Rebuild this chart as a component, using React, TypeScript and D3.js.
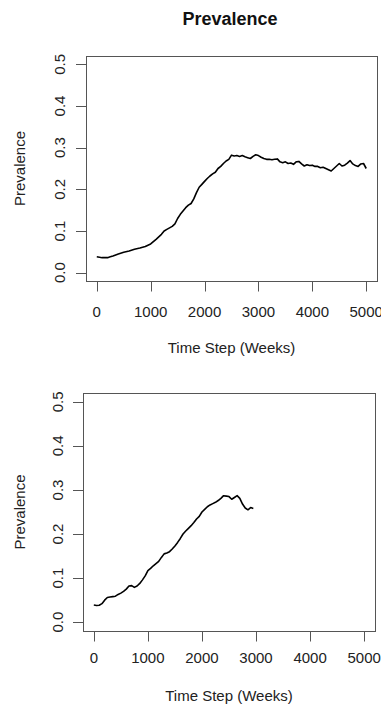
import { useEffect, useRef } from 'react'
import * as d3 from 'd3'

// Full run (top panel)
const runAWeeks = [0, 50, 100, 150, 200, 250, 300, 400, 500, 600, 700, 800, 900, 950, 1000, 1100, 1200, 1250, 1300, 1400, 1450, 1500, 1550, 1600, 1650, 1700, 1750, 1800, 1850, 1900, 1950, 2000, 2050, 2100, 2150, 2200, 2250, 2300, 2350, 2400, 2450, 2500, 2550, 2600, 2650, 2700, 2750, 2800, 2850, 2900, 2950, 3000, 3050, 3100, 3150, 3200, 3250, 3300, 3350, 3400, 3450, 3500, 3550, 3600, 3650, 3700, 3750, 3800, 3850, 3900, 3950, 4000, 4050, 4100, 4150, 4200, 4250, 4300, 4350, 4400, 4450, 4500, 4550, 4600, 4650, 4700, 4750, 4800, 4850, 4900, 4950, 5000]
const runAPrev = [0.038, 0.037, 0.036, 0.0365, 0.036, 0.038, 0.040, 0.045, 0.049, 0.052, 0.056, 0.059, 0.063, 0.066, 0.069, 0.080, 0.092, 0.100, 0.104, 0.111, 0.117, 0.130, 0.140, 0.148, 0.156, 0.162, 0.166, 0.177, 0.192, 0.205, 0.212, 0.219, 0.226, 0.232, 0.237, 0.241, 0.250, 0.255, 0.262, 0.268, 0.272, 0.282, 0.280, 0.281, 0.279, 0.281, 0.278, 0.276, 0.274, 0.279, 0.283, 0.281, 0.277, 0.274, 0.272, 0.272, 0.271, 0.272, 0.273, 0.266, 0.264, 0.266, 0.262, 0.263, 0.260, 0.266, 0.267, 0.261, 0.256, 0.259, 0.257, 0.258, 0.255, 0.255, 0.252, 0.253, 0.250, 0.247, 0.244, 0.250, 0.256, 0.262, 0.256, 0.258, 0.263, 0.269, 0.261, 0.257, 0.255, 0.261, 0.262, 0.250]

// Shorter run (bottom panel)
const runBWeeks = [0, 50, 100, 150, 200, 250, 300, 350, 400, 450, 500, 550, 600, 650, 700, 750, 800, 850, 900, 950, 1000, 1050, 1100, 1150, 1200, 1250, 1300, 1350, 1400, 1450, 1500, 1550, 1600, 1650, 1700, 1750, 1800, 1850, 1900, 1950, 2000, 2050, 2100, 2150, 2200, 2250, 2300, 2350, 2400, 2450, 2500, 2550, 2600, 2650, 2700, 2750, 2800, 2850, 2900, 2950]
const runBPrev = [0.039, 0.038, 0.0385, 0.042, 0.050, 0.056, 0.057, 0.058, 0.059, 0.063, 0.066, 0.070, 0.075, 0.082, 0.083, 0.079, 0.082, 0.088, 0.096, 0.105, 0.117, 0.122, 0.128, 0.133, 0.138, 0.147, 0.155, 0.157, 0.160, 0.166, 0.173, 0.181, 0.190, 0.200, 0.207, 0.213, 0.219, 0.226, 0.234, 0.240, 0.250, 0.256, 0.262, 0.266, 0.269, 0.272, 0.276, 0.281, 0.287, 0.286, 0.285, 0.279, 0.283, 0.287, 0.281, 0.268, 0.259, 0.255, 0.260, 0.258]

const xTicks = [0, 1000, 2000, 3000, 4000, 5000]
const yTicks = [0.0, 0.1, 0.2, 0.3, 0.4, 0.5]

const FONT = '"Liberation Sans", Arial, Helvetica, sans-serif'

function drawPanel(root, weeks, prev, box, labels) {
  const { left, right, top, bottom } = box
  // R-style 4% padding around the data range
  const x = d3.scaleLinear().domain([-200, 5200]).range([left, right])
  const y = d3.scaleLinear().domain([-0.02, 0.52]).range([bottom, top])

  const g = root.append('g')

  g.append('rect')
    .attr('x', left + 0.5)
    .attr('y', top + 0.5)
    .attr('width', right - left)
    .attr('height', bottom - top)
    .attr('fill', 'none')
    .attr('stroke', '#555')
    .attr('stroke-width', 1)

  // x axis
  g.selectAll('.xtick')
    .data(xTicks)
    .enter()
    .append('line')
    .attr('x1', d => Math.round(x(d)) + 0.5)
    .attr('x2', d => Math.round(x(d)) + 0.5)
    .attr('y1', bottom + 0.5)
    .attr('y2', bottom + 10.5)
    .attr('stroke', '#555')
  g.append('line')
    .attr('x1', Math.round(x(0)) + 0.5)
    .attr('x2', Math.round(x(5000)) + 0.5)
    .attr('y1', bottom + 0.5)
    .attr('y2', bottom + 0.5)
    .attr('stroke', '#555')
  g.selectAll('.xlab')
    .data(xTicks)
    .enter()
    .append('text')
    .attr('x', d => x(d))
    .attr('y', labels.xTickBase)
    .attr('text-anchor', 'middle')
    .style('font-family', FONT)
    .style('font-size', '15px')
    .style('fill', '#222')
    .text(d => d)

  // y axis
  g.selectAll('.ytick')
    .data(yTicks)
    .enter()
    .append('line')
    .attr('x1', left - 10)
    .attr('x2', left + 0.5)
    .attr('y1', d => Math.round(y(d)) + 0.5)
    .attr('y2', d => Math.round(y(d)) + 0.5)
    .attr('stroke', '#555')
  g.selectAll('.ylab')
    .data(yTicks)
    .enter()
    .append('text')
    .attr('transform', d => `translate(${labels.yTickBase},${y(d)}) rotate(-90)`)
    .attr('text-anchor', 'middle')
    .style('font-family', FONT)
    .style('font-size', '15px')
    .style('fill', '#222')
    .text(d => d.toFixed(1))

  // axis titles
  g.append('text')
    .attr('x', (left + right) / 2)
    .attr('y', labels.xTitleBase)
    .attr('text-anchor', 'middle')
    .style('font-family', FONT)
    .style('font-size', '15px')
    .style('fill', '#222')
    .text('Time Step (Weeks)')
  g.append('text')
    .attr('transform', `translate(${labels.yTitleBase},${(top + bottom) / 2}) rotate(-90)`)
    .attr('text-anchor', 'middle')
    .style('font-family', FONT)
    .style('font-size', '15px')
    .style('fill', '#222')
    .text('Prevalence')

  const line = d3.line()
    .x(d => x(d[0]))
    .y(d => y(d[1]))

  g.append('path')
    .datum(d3.zip(weeks, prev))
    .attr('fill', 'none')
    .attr('stroke', '#000')
    .attr('stroke-width', 1.6)
    .attr('stroke-linejoin', 'round')
    .attr('d', line)
}

export default function App() {
  const svgRef = useRef(null)

  useEffect(() => {
    const svg = d3.select(svgRef.current)
    svg.selectAll('*').remove()

    svg.append('text')
      .attr('x', 230)
      .attr('y', 25)
      .attr('text-anchor', 'middle')
      .style('font-family', FONT)
      .style('font-size', '18px')
      .style('font-weight', 'bold')
      .style('fill', '#111')
      .text('Prevalence')

    drawPanel(svg, runAWeeks, runAPrev,
      { left: 86, right: 377, top: 56, bottom: 281 },
      { xTickBase: 317, yTickBase: 65, xTitleBase: 353, yTitleBase: 25 })

    drawPanel(svg, runBWeeks, runBPrev,
      { left: 83, right: 375, top: 393, bottom: 631 },
      { xTickBase: 663, yTickBase: 63, xTitleBase: 701, yTitleBase: 25 })
  }, [])

  return (
    <div style={{ position: 'absolute', left: 0, top: 0, width: 381, height: 705, background: '#fff' }}>
      <svg ref={svgRef} width={381} height={705} style={{ display: 'block' }}></svg>
    </div>
  )
}
